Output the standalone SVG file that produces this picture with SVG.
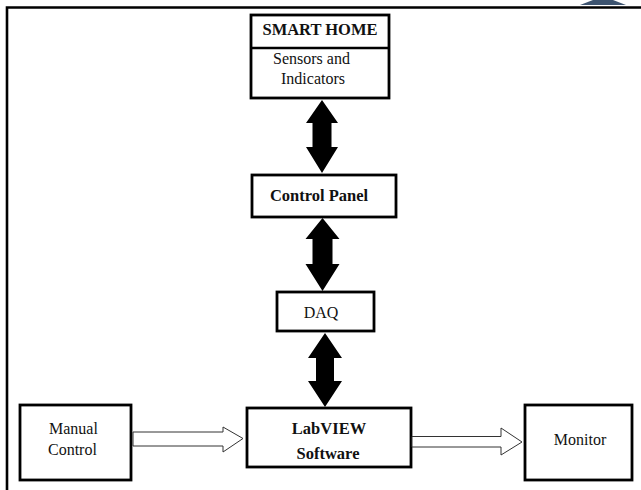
<svg xmlns="http://www.w3.org/2000/svg" width="641" height="490" viewBox="0 0 641 490">
<style>
.box{fill:#fff;stroke:#000;stroke-width:2.8}
.t{font-family:"Liberation Serif","Times New Roman",serif;font-size:16px;fill:#111}
.b{font-weight:bold;font-size:16.5px}
.solid{fill:#000;stroke:none}
.hollow{fill:#fff;stroke:#333;stroke-width:1}
.frame{stroke:#000;stroke-width:2.6;fill:none}
</style>
<rect width="641" height="490" fill="#fff"/>
<polygon points="580,5 626,5 613,0 593,0" fill="#3d5470"/>
<polyline class="frame" points="641,7.5 7,7.5 7,490"/>

<g id="smart-home">
<rect class="box" x="251" y="15" width="138" height="83"/>
<line x1="251" y1="48" x2="389" y2="48" stroke="#000" stroke-width="2.5"/>
<text class="t b" x="320" y="35" text-anchor="middle">SMART HOME</text>
<text class="t" x="273" y="64">Sensors and</text>
<text class="t" x="281" y="84">Indicators</text>
</g>

<g id="control-panel">
<rect class="box" x="252" y="175" width="144" height="42"/>
<text class="t b" x="319" y="201" text-anchor="middle">Control Panel</text>
</g>

<g id="daq">
<rect class="box" x="277" y="292" width="97" height="39"/>
<text class="t" x="321" y="318" text-anchor="middle">DAQ</text>
</g>

<g id="manual-control">
<rect class="box" x="20" y="405" width="111" height="75"/>
<text class="t" x="49" y="434">Manual</text>
<text class="t" x="48" y="455">Control</text>
</g>

<g id="labview">
<rect class="box" x="247" y="408" width="164" height="59"/>
<text class="t b" x="329" y="434" text-anchor="middle">LabVIEW</text>
<text class="t b" x="328" y="459" text-anchor="middle">Software</text>
</g>

<g id="monitor">
<rect class="box" x="525" y="405" width="107" height="75"/>
<text class="t" x="580" y="445" text-anchor="middle">Monitor</text>
</g>

<g id="connectors">
<polygon class="solid" points="322,100 338,123 331.5,123 331.5,147 338,147 322,173 306,147 312.5,147 312.5,123 306,123"/>
<polygon class="solid" points="322.5,218 339.5,239 332.5,239 332.5,264 339.5,264 322.5,291 305.5,264 312.5,264 312.5,239 305.5,239"/>
<polygon class="solid" points="325,333 342,358 334,358 334,381 342,381 325,407 308,381 316,381 316,358 308,358"/>
<polygon class="hollow" points="133,432 223,432 223,427 243,438.5 223,452 223,446 133,446"/>
<polygon class="hollow" points="412,436.5 501,436.5 501,428 522,442 501,455 501,447 412,447"/>
</g>
</svg>
